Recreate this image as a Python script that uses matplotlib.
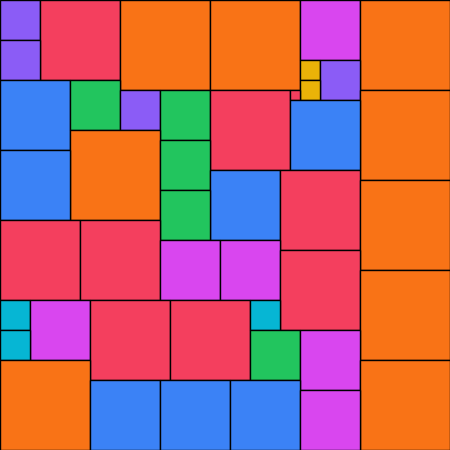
import numpy as np
import matplotlib
matplotlib.use("Agg")
import matplotlib.pyplot as plt
from matplotlib.patches import Rectangle

# square sides (grid units of 10 px), in placement order
sides = [4, 8, 9, 9, 6, 9,
         4,
         2, 4,
         7, 5, 2,
         4, 5, 8, 1, 9,
         7,
         9,
         5,
         7,
         7, 8,
         9,
         5,
         8, 8,
         6, 6,
         8,
         9,
         3, 6, 8, 8, 3,
         3, 5, 6,
         9, 9,
         7, 7, 7,
         6]

size_colors = {1: "#F43F5E", 2: "#EAB308", 3: "#06B6D4", 4: "#8B5CF6",
               5: "#22C55E", 6: "#D946EF", 7: "#3B82F6", 8: "#F43F5E",
               9: "#F97316"}

grid_n = 45
unit = 10

# greedy packing: each square goes into the first free cell (row by row)
occupied = np.zeros((grid_n, grid_n), dtype=bool)
placed = []
for s in sides:
    free = np.argwhere(~occupied)
    r, c = free[0]
    occupied[r:r + s, c:c + s] = True
    placed.append((c * unit, r * unit, s * unit, size_colors[s]))

fig = plt.figure(figsize=(4.5, 4.5), dpi=100)
ax = fig.add_axes([0, 0, 1, 1])
for x, y, w, col in placed:
    ax.add_patch(Rectangle((x, y), w, w, facecolor=col, edgecolor="black", linewidth=1.0))
ax.set_xlim(0, grid_n * unit)
ax.set_ylim(grid_n * unit, 0)
ax.axis("off")

fig.savefig("out.png", dpi=100)
